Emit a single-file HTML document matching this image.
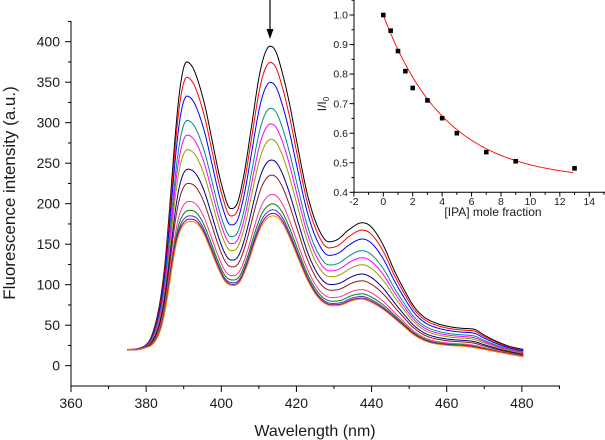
<!DOCTYPE html>
<html>
<head>
<meta charset="utf-8">
<style>
html,body{margin:0;padding:0;background:#fff;}
svg{display:block;}
text{font-family:"Liberation Sans",Arial,sans-serif;fill:#1a1a1a;}
</style>
</head>
<body>
<svg id="chart" width="605" height="440" viewBox="0 0 605 440" xmlns="http://www.w3.org/2000/svg">
<rect x="0" y="0" width="605" height="440" fill="#fff"/>
<g id="curves" fill="none" stroke-width="1"></g>
<g id="axes" stroke="#000" stroke-width="1" fill="none"></g>
<g id="labels"></g>
<!-- main axis titles -->
<text x="315" y="436" font-size="16" text-anchor="middle">Wavelength (nm)</text>
<text transform="translate(15,193) rotate(-90)" font-size="17" text-anchor="middle">Fluorescence intensity (a.u.)</text>
<!-- arrow -->
<line x1="270" y1="0" x2="270" y2="31" stroke="#000" stroke-width="1.2"/>
<polygon points="266.5,29 273.5,29 270,39" fill="#000"/>
<!-- inset -->
<g id="inset"></g>
<text x="493" y="216" font-size="12" text-anchor="middle">[IPA] mole fraction</text>
<text transform="translate(326,104) rotate(-90)" font-size="12" text-anchor="middle">I/I<tspan font-size="8" dy="3">0</tspan></text>
</svg>
<script>
(function(){
var NS="http://www.w3.org/2000/svg";
function el(tag,attrs,parent,txt){var e=document.createElementNS(NS,tag);for(var k in attrs)e.setAttribute(k,attrs[k]);if(txt!==undefined)e.textContent=txt;parent.appendChild(e);return e;}
function X(l){return 71+(l-360)*3.757;}
function Y(v){return 365.7-v*0.81;}
function mono(P){
  var n=P.length,xs=P.map(function(p){return p[0]}),ys=P.map(function(p){return p[1]}),d=[],m=[];
  for(var i=0;i<n-1;i++)d[i]=(ys[i+1]-ys[i])/(xs[i+1]-xs[i]);
  m[0]=d[0];m[n-1]=d[n-2];
  for(i=1;i<n-1;i++){m[i]=(d[i-1]*d[i]<=0)?0:(d[i-1]+d[i])/2;}
  for(i=0;i<n-1;i++){
    if(d[i]===0){m[i]=0;m[i+1]=0;continue;}
    var a=m[i]/d[i],b=m[i+1]/d[i],s=a*a+b*b;
    if(s>9){var t=3/Math.sqrt(s);m[i]=t*a*d[i];m[i+1]=t*b*d[i];}
  }
  return function(x){
    var j=0;while(j<n-2&&x>xs[j+1])j++;
    var h=xs[j+1]-xs[j],t=(x-xs[j])/h;if(t<0)t=0;if(t>1)t=1;
    var t2=t*t,t3=t2*t;
    return (2*t3-3*t2+1)*ys[j]+(t3-2*t2+t)*h*m[j]+(-2*t3+3*t2)*ys[j+1]+(t3-t2)*h*m[j+1];
  };
}
var T=[[375,20],[377,20.5],[379,23],[380,26],[381,32],[382,44],[383,62],[384,88],[385,126],[386,180],[387,240],[388,298],[389,342],[390,368],[390.8,375],[392,371],[393.1,361],[395.7,320],[397.3,284],[400,225],[402.5,194],[404,198],[406,235],[408,294],[410,355],[411.5,384],[413,394.5],[414.5,388],[416,366],[418,327],[420.2,274],[423,210],[426,168],[428.6,153],[431,156],[434,168],[437.5,176.5],[440,171],[443.3,147],[446,118],[448.7,93.5],[451.3,73],[454,60],[457.5,52],[461,48],[464.6,46],[467.3,45],[469.9,38],[473.5,29.6],[477,23.5],[480.5,20]];
var B=[[375,19.5],[377,19.5],[379,21],[380,22.5],[381.5,25.5],[383,35],[384.2,50],[385.2,72],[386.2,100],[387,124],[388,150],[389,166],[390.5,176],[392,178],[393.5,175.5],[395,166],[397,145],[399,122],[401,104],[403.3,99],[405,104],[407,125],[409,153],[411,175],[413.8,185],[416,178],[418,160],[420.5,132],[423,105],[426,83],[429.5,74],[432,75],[435,80.5],[437.5,82],[440,78],[443.3,68.7],[447.7,52],[451.3,38],[454.8,29.6],[459.3,25.5],[465.5,23.5],[470,20],[475.3,15.3],[480.5,11]];
var fT=mono(T),fB=mono(B);
var W=[1,0.904,0.787,0.635,0.543,0.452,0.330,0.241,0.127,0.071,0.036,0.015,0];
var C=["#000000","#ff0000","#0000ff","#008b8b","#ff00ff","#9a9a00","#00008b","#8b1a1a","#ff3399","#008000","#3a3acc","#800080","#ff8000"];
var g=document.getElementById("curves");
for(var k=0;k<W.length;k++){
  var pts=[];
  for(var l=375;l<=480.51;l+=0.2){
    var t=fT(l),b=fB(l),v=b+W[k]*(t-b);
    pts.push(X(l).toFixed(2)+","+Y(v).toFixed(2));
  }
  el("path",{d:"M"+pts.join("L"),stroke:C[k]},g);
}
// main axes
var ax=document.getElementById("axes"),lb=document.getElementById("labels");
el("line",{x1:71,y1:21,x2:71,y2:386.5},ax);
el("line",{x1:70.5,y1:386,x2:560,y2:386},ax);
for(var v=0;v<=400;v+=50){var y=Y(v);el("line",{x1:65,y1:y,x2:71,y2:y},ax);el("text",{x:60,y:y+5,"font-size":14,"text-anchor":"end"},lb,String(v));}
for(v=25;v<=425;v+=50){y=Y(v);el("line",{x1:68,y1:y,x2:71,y2:y},ax);}
for(l=360;l<=480;l+=20){var x=X(l);el("line",{x1:x,y1:386,x2:x,y2:392},ax);el("text",{x:x,y:408,"font-size":14,"text-anchor":"middle"},lb,String(l));}
for(l=370;l<=490;l+=20){x=X(l);el("line",{x1:x,y1:386,x2:x,y2:389},ax);}
// inset
var ig=document.getElementById("inset");
function IX(v){return 383.3+v*14.71;}
function IY(v){return 15+(1-v)*295.5;}
el("line",{x1:354,y1:0,x2:354,y2:192.8,stroke:"#000","stroke-width":1},ig);
el("line",{x1:353.5,y1:192.3,x2:605,y2:192.3,stroke:"#000","stroke-width":1},ig);
var yl=["0.4","0.5","0.6","0.7","0.8","0.9","1.0"];
for(var i=0;i<7;i++){var vv=0.4+i*0.1;y=IY(vv);el("line",{x1:349.5,y1:y,x2:354,y2:y,stroke:"#000"},ig);el("text",{x:348,y:y+3.6,"font-size":10.5,"text-anchor":"end"},ig,yl[i]);}
for(i=0;i<7;i++){y=IY(0.45+i*0.1);el("line",{x1:351.5,y1:y,x2:354,y2:y,stroke:"#000"},ig);}
for(v=-2;v<=14;v+=2){x=IX(v);el("line",{x1:x,y1:192.3,x2:x,y2:196.5,stroke:"#000"},ig);el("text",{x:x,y:205,"font-size":10.5,"text-anchor":"middle"},ig,String(v));}
for(v=-1;v<=15;v+=2){x=IX(v);el("line",{x1:x,y1:192.3,x2:x,y2:194.8,stroke:"#000"},ig);}
var fp=[];
for(var q=0;q<=12.9;q+=0.1){fp.push(IX(q).toFixed(2)+","+IY(0.44+0.56*Math.exp(-q/4.24)).toFixed(2));}
el("path",{d:"M"+fp.join("L"),stroke:"#ff0000",fill:"none","stroke-width":0.9},ig);
var D=[[0,1.0],[0.5,0.947],[1,0.878],[1.5,0.81],[2,0.753],[3,0.711],[4,0.651],[5,0.6],[7,0.536],[9,0.505],[13,0.481]];
for(i=0;i<D.length;i++){el("rect",{x:IX(D[i][0])-2.3,y:IY(D[i][1])-2.3,width:4.6,height:4.6,fill:"#000"},ig);}
})();
</script>
</body>
</html>
